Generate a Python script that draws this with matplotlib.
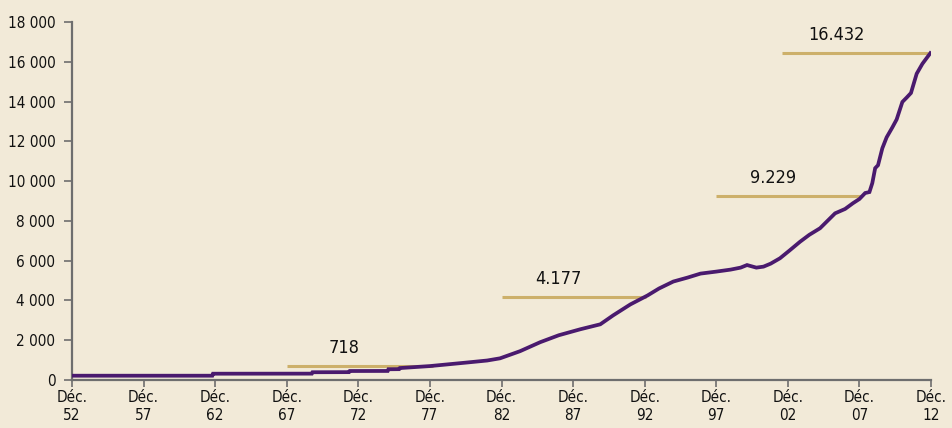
import matplotlib
matplotlib.use("Agg")
import matplotlib.pyplot as plt

# Couleurs
FOND = "#F2EAD8"
VIOLET = "#4A1A6E"
OR = "#CDB06A"
GRIS = "#6E6E6E"

plt.rcParams['font.family'] = ['DejaVu Sans']
plt.rcParams['font.stretch'] = 'condensed'

# Serie (annees, valeur)
annees = [1952.0, 1961.8, 1961.85, 1968.75, 1968.8, 1971.35, 1971.4, 1974.05, 1974.1,
          1974.85, 1974.9, 1977.0, 1978.3, 1979.6, 1981.0, 1981.9, 1983.3, 1984.7,
          1986.0, 1987.5, 1988.9, 1989.8, 1991.0, 1992.2, 1993.0, 1994.0, 1995.0,
          1995.9, 1997.0, 1998.0, 1998.7, 1999.15, 1999.8, 2000.3, 2000.8, 2001.45,
          2002.1, 2002.85, 2003.5, 2004.25, 2005.3, 2006.0, 2006.55, 2007.0, 2007.4,
          2007.7, 2007.9, 2008.1, 2008.3, 2008.6, 2008.9, 2009.3, 2009.6, 2010.0,
          2010.3, 2010.6, 2011.0, 2011.4, 2011.95]
valeurs = [216, 216, 317, 320, 390, 395, 452, 455, 540,
           545, 600, 700, 790, 880, 980, 1090, 1450, 1900,
           2250, 2550, 2800, 3250, 3800, 4250, 4600, 4950, 5150,
           5350, 5450, 5550, 5650, 5780, 5650, 5700, 5850, 6120,
           6500, 6950, 7300, 7630, 8380, 8600, 8890, 9100, 9400,
           9450, 9900, 10650, 10800, 11650, 12200, 12700, 13100, 13980,
           14200, 14430, 15400, 15900, 16432]

# Paliers dores
palier_debut = [1967.0, 1982.0, 1997.0, 2001.6]
palier_fin = [1977.2, 1992.1, 2007.2, 2011.8]
palier_val = [718, 4177, 9229, 16432]
palier_txt = ["718", "4.177", "9.229", "16.432"]
palier_xtxt = [1971.0, 1985.95, 2000.95, 2005.4]

ticks_x = list(range(1952, 2013, 5))
labels_x = ["Déc.\n%02d" % (a % 100) for a in ticks_x]
ticks_y = list(range(0, 18001, 2000))
labels_y = ["{:,}".format(v).replace(",", " ") for v in ticks_y]

fig = plt.figure(figsize=(9.52, 4.28), dpi=100, facecolor=FOND)
ax = fig.add_axes([72 / 952, 48 / 428, (931 - 72) / 952, 358 / 428])
ax.set_facecolor(FOND)

for d, f, v in zip(palier_debut, palier_fin, palier_val):
    ax.plot([d, f], [v, v], color=OR, lw=2.2, solid_capstyle='butt', zorder=2)

ax.plot(annees, valeurs, color=VIOLET, lw=2.7, solid_joinstyle='miter', zorder=3)

for xt, v, t in zip(palier_xtxt, palier_val, palier_txt):
    ax.annotate(t, (xt, v), xytext=(0, 13), textcoords='offset points',
                ha='center', va='center', fontsize=13, color='#111111')

ax.set_xlim(1952, 2012)
ax.set_ylim(0, 18000)
ax.set_xticks(ticks_x)
ax.set_xticklabels(labels_x, linespacing=1.3)
ax.set_yticks(ticks_y)
ax.set_yticklabels(labels_y)

for s in ['top', 'right']:
    ax.spines[s].set_visible(False)
for s in ['left', 'bottom']:
    ax.spines[s].set_color(GRIS)
    ax.spines[s].set_linewidth(1.6)

ax.tick_params(axis='both', colors=GRIS, labelcolor='#111111', labelsize=11, width=1.2)
ax.tick_params(axis='x', length=5, pad=2)
ax.tick_params(axis='y', length=6, pad=6)

fig.savefig("out.png", dpi=100, facecolor=FOND)
